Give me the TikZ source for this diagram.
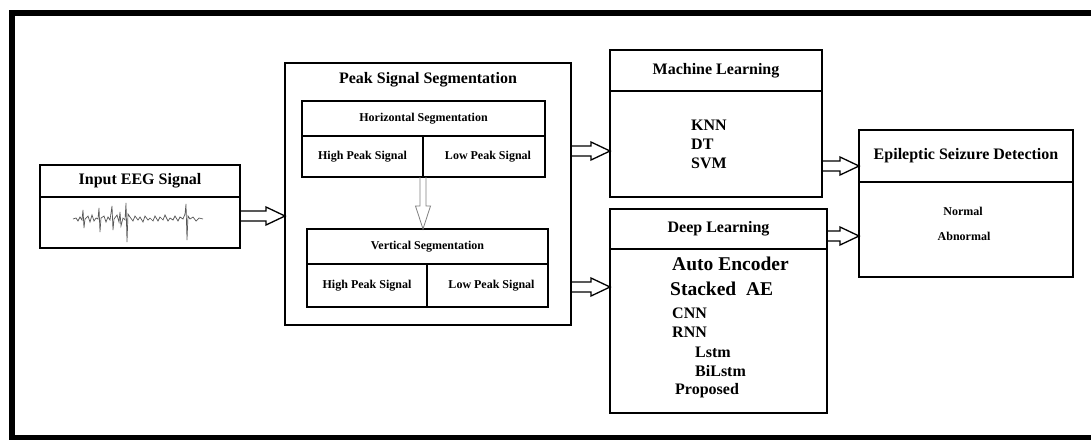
\documentclass[tikz,border=0pt]{standalone}
\usepackage{fontspec}
\setmainfont{Liberation Serif}
\usetikzlibrary{positioning}

\begin{document}
\begin{tikzpicture}[
x=1pt, y=-1pt,
box/.style={
  draw,
  line width=2.6pt,
  inner sep=0pt,
  outer sep=0pt,
  align=center,
  font=\fontsize{16}{19}\selectfont\bfseries
  },
subbox/.style={box, font=\fontsize{12}{14}\selectfont\bfseries},
item/.style={inner sep=0pt, font=\fontsize{16}{19}\selectfont\bfseries},
bigitem/.style={inner sep=0pt, font=\fontsize{19.5}{23}\selectfont\bfseries},
small/.style={inner sep=0pt, font=\fontsize{12}{14}\selectfont\bfseries},
harrow/.style={
  draw,
  line width=1.3pt,
  line join=miter,
  to path={([yshift=5pt]\tikztostart) -- ([xshift=-19pt,yshift=5pt]\tikztotarget)
    -- ([xshift=-19pt,yshift=9pt]\tikztotarget) -- (\tikztotarget)
    -- ([xshift=-19pt,yshift=-9pt]\tikztotarget) -- ([xshift=-19pt,yshift=-5pt]\tikztotarget)
    -- ([yshift=-5pt]\tikztostart)}
  },
varrow/.style={
  draw=gray,
  line width=0.8pt,
  to path={([xshift=3pt]\tikztostart) -- ([xshift=3pt,yshift=23pt]\tikztotarget)
    -- ([xshift=7.5pt,yshift=23pt]\tikztotarget) -- (\tikztotarget)
    -- ([xshift=-7.5pt,yshift=23pt]\tikztotarget) -- ([xshift=-3pt,yshift=23pt]\tikztotarget)
    -- ([xshift=-3pt]\tikztostart)}
  }
]
\useasboundingbox (0,0) rectangle (1091,439);
\clip (0,0) rectangle (1091,439);
\fill[white] (0,0) rectangle (1091,439);
\draw[line width=6pt] (12,12.5) rectangle (1120,438);

% input
\node[box, minimum width=200, minimum height=32] (inhead) at (140,181) {Input EEG Signal};
\node[box, minimum width=200, minimum height=51, below=0pt of inhead] (inbody) {};
\draw[gray!70!black, line width=0.7pt] plot coordinates {
  (73,219) (76,218) (78,221) (80,217) (82,220) (83,210) (84,228) (85,219)
  (88,216) (90,222) (92,215) (94,221) (96,218) (98,219) (99,208) (100,232)
  (101,218) (104,216) (106,222) (108,217) (110,220) (112,206) (113,230) (114,219)
  (117,215) (119,222) (120,212) (121,226) (123,218) (125,220) (126,203) (127,242)
  (128,214) (130,217) (133,221) (135,216) (138,220) (140,217) (143,222) (145,216)
  (148,220) (150,218) (153,221) (155,216) (158,221) (160,217) (163,220) (165,215)
  (168,221) (170,218) (173,220) (175,216) (178,221) (180,217) (183,219) (185,214)
  (186,204) (187,240) (188,216) (190,219) (193,217) (196,221) (199,218) (203,219)};

% segmentation
\node[box, minimum width=286, minimum height=262] (pss) at (428,194) {};
\node[item] (psstitle) at (428,80) {Peak Signal Segmentation};
\node[subbox, minimum width=243, minimum height=35] (hseg) at (423.5,118.5) {Horizontal Segmentation};
\node[subbox, minimum width=121, minimum height=41, below right=0pt of hseg.south west] (hhigh) {High Peak Signal};
\node[subbox, minimum width=122, minimum height=41, right=0pt of hhigh] (hlow) {\hspace*{8pt}Low Peak Signal};
\node[subbox, minimum width=241, minimum height=35] (vseg) at (427.5,246.5) {Vertical Segmentation};
\node[subbox, minimum width=120, minimum height=43, below right=0pt of vseg.south west] (vhigh) {High Peak Signal};
\node[subbox, minimum width=121, minimum height=43, right=0pt of vhigh] (vlow) {\hspace*{8pt}Low Peak Signal};

% machine learning
\node[box, minimum width=212, minimum height=41] (ml) at (716,70.5) {Machine Learning};
\node[box, minimum width=212, minimum height=106, below=0pt of ml, align=left] (mlbody) {KNN\\DT\\SVM\hspace*{14pt}};

% deep learning
\node[box, minimum width=217, minimum height=40] (dl) at (718.5,229) {Deep Learning};
\node[box, minimum width=217, minimum height=164, below=0pt of dl] (dlbody) {};
\node[bigitem, anchor=west] (dlae) at (672,264) {Auto Encoder};
\node[bigitem, anchor=west] (dlsae) at (670,289) {Stacked~ AE};
\foreach \Y/\X/\Name in {313/672/CNN, 332/672/RNN, 352/695/Lstm, 371/695/BiLstm, 391/675/Proposed}
  \node[item, anchor=west] (dl\Name) at (\X,\Y) {\Name};

% detection
\node[box, minimum width=214, minimum height=52] (esd) at (966,156) {Epileptic Seizure Detection};
\node[box, minimum width=214, minimum height=95, below=0pt of esd] (esdbody) {};
\node[small] (normal) at (963,211) {Normal};
\node[small] (abnormal) at (964,236) {Abnormal};

% arrows
\draw[harrow] ([yshift=6.5pt]inbody.east) to ([yshift=6.5pt]inbody.east -| pss.west);
\draw[harrow] ([yshift=-7pt]pss.east |- mlbody.west) to ([yshift=-7pt]mlbody.west);
\draw[harrow] ([yshift=44pt]pss.east |- dlbody.west) to ([yshift=44pt]dlbody.west);
\draw[harrow] ([yshift=-22pt]mlbody.east) to ([yshift=-22pt]mlbody.east -| esd.west);
\draw[harrow] ([yshift=-7pt]dl.east) to ([yshift=-7pt]dl.east -| esdbody.west);
\draw[varrow] (hhigh.south east) to (hhigh.south east |- vseg.north);
\end{tikzpicture}
\end{document}
